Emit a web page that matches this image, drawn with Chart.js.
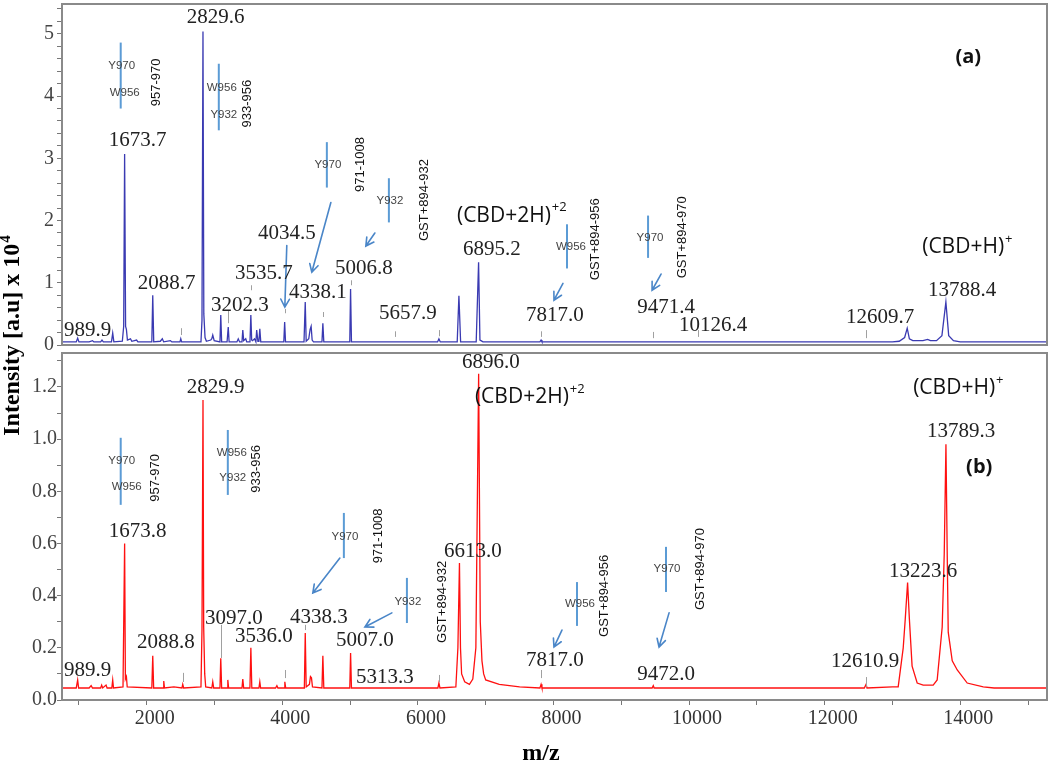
<!DOCTYPE html>
<html><head><meta charset="utf-8">
<script src="https://cdn.jsdelivr.net/npm/chart.js@4/dist/chart.umd.min.js"></script>
<style>
html,body{margin:0;padding:0;background:#fff;overflow:hidden}
#wrap{position:relative;width:1050px;height:763px;background:#fff}
canvas{position:absolute;left:0;top:0}
</style></head>
<body><div id="wrap"><canvas id="c1" width="1050" height="763"></canvas><canvas id="c2" width="1050" height="763"></canvas></div>
<script>
// ---------- axis ranges and ticks ----------
const mzRange = [750, 15280];
const yRangeA = [0, 5.48];
const yRangeB = [0, 1.33];
const xTicks = [1000,2000,3000,4000,5000,6000,7000,8000,9000,10000,11000,12000,13000,14000,15000];
const xTickLabels = ['', '2000', '', '4000', '', '6000', '', '8000', '', '10000', '', '12000', '', '14000', ''];
const yTicksA = [0,0.2,0.4,0.6,0.8,1,1.2,1.4,1.6,1.8,2,2.2,2.4,2.6,2.8,3,3.2,3.4,3.6,3.8,4,4.2,4.4,4.6,4.8,5,5.2,5.4];
const yTicksB = [0,0.1,0.2,0.3,0.4,0.5,0.6,0.7,0.8,0.9,1.0,1.1,1.2,1.3];

// ---------- spectrum (a) : [m/z, intensity x10^4] ----------
const spectrumA = [[750,0.05],[960,0.05],[981,0.11],[1000,0.05],[1150,0.05],[1200,0.07],[1220,0.05],[1320,0.05],[1340,0.08],[1360,0.05],[1480,0.05],[1498,0.19],[1515,0.05],[1640,0.06],[1660,0.3],[1673.7,3.07],[1688,0.3],[1700,0.25],[1715,0.08],[1760,0.1],[1780,0.06],[1850,0.08],[1870,0.05],[2075,0.05],[2088.7,0.8],[2103,0.05],[2200,0.06],[2230,0.1],[2250,0.05],[2350,0.07],[2370,0.05],[2490,0.05],[2502,0.1],[2515,0.05],[2800,0.05],[2815,0.4],[2829.6,5.04],[2842,0.5],[2860,0.12],[2880,0.06],[2945,0.08],[2960,0.1],[2974,0.16],[2995,0.07],[3080,0.05],[3092,0.48],[3105,0.05],[3185,0.05],[3202.3,0.29],[3215,0.05],[3330,0.05],[3350,0.1],[3370,0.05],[3405,0.05],[3417,0.24],[3430,0.07],[3460,0.1],[3475,0.05],[3523,0.05],[3535.7,0.48],[3548,0.08],[3560,0.07],[3590,0.1],[3610,0.05],[3622,0.24],[3640,0.06],[3655,0.06],[3668,0.26],[3682,0.05],[3900,0.05],[4022,0.05],[4034.5,0.37],[4047,0.05],[4320,0.05],[4338.1,0.69],[4352,0.06],[4390,0.1],[4410,0.25],[4425,0.3],[4440,0.08],[4460,0.05],[4585,0.05],[4598,0.35],[4612,0.05],[4995,0.05],[5006.8,0.9],[5020,0.05],[6290,0.05],[6310,0.1],[6330,0.05],[6580,0.05],[6605,0.79],[6630,0.05],[6860,0.05],[6895.2,1.33],[6915,0.08],[6930,0.07],[6960,0.05],[7800,0.05],[7817,0.08],[7830,0.05],[13000,0.05],[13100,0.06],[13180,0.12],[13218,0.27],[13250,0.1],[13300,0.07],[13450,0.07],[13520,0.09],[13560,0.07],[13650,0.07],[13730,0.15],[13788.4,0.69],[13830,0.15],[13900,0.07],[14000,0.05],[15280,0.05]];

// ---------- spectrum (b) ----------
const spectrumB = [[750,0.046],[960,0.046],[981,0.077],[995,0.046],[1150,0.046],[1180,0.055],[1200,0.046],[1320,0.046],[1335,0.057],[1350,0.046],[1400,0.057],[1415,0.046],[1485,0.046],[1498,0.077],[1510,0.046],[1650,0.05],[1673.8,0.60],[1685,0.08],[1700,0.09],[1712,0.05],[2075,0.046],[2088.8,0.17],[2102,0.046],[2240,0.046],[2251,0.073],[2262,0.046],[2400,0.05],[2520,0.046],[2531,0.06],[2545,0.046],[2800,0.05],[2815,0.27],[2829.9,1.15],[2840,0.28],[2855,0.1],[2870,0.05],[2960,0.046],[2974,0.07],[2988,0.046],[3080,0.046],[3092,0.16],[3105,0.046],[3185,0.046],[3196,0.077],[3208,0.046],[3405,0.046],[3417,0.08],[3430,0.046],[3522,0.046],[3536,0.20],[3550,0.046],[3655,0.046],[3668,0.07],[3680,0.046],[3900,0.046],[3920,0.055],[3935,0.046],[4025,0.046],[4037,0.07],[4050,0.046],[4325,0.046],[4338.3,0.257],[4352,0.05],[4400,0.06],[4415,0.09],[4430,0.085],[4445,0.05],[4585,0.046],[4598,0.17],[4612,0.046],[4995,0.046],[5007,0.18],[5020,0.046],[6295,0.046],[6310,0.065],[6325,0.046],[6560,0.05],[6590,0.2],[6613,0.525],[6628,0.2],[6645,0.1],[6690,0.07],[6760,0.06],[6810,0.08],[6855,0.2],[6896,1.25],[6920,0.3],[6945,0.15],[6970,0.1],[7000,0.077],[7200,0.06],[7500,0.05],[7800,0.046],[7817,0.06],[7830,0.046],[9455,0.046],[9472,0.055],[9485,0.046],[12585,0.046],[12610.9,0.06],[12625,0.046],[13000,0.05],[13085,0.05],[13159,0.2],[13189,0.31],[13223.6,0.45],[13250,0.31],[13290,0.13],[13365,0.065],[13454,0.057],[13601,0.057],[13660,0.077],[13734,0.28],[13764,0.56],[13789.3,0.98],[13808,0.56],[13823,0.26],[13882,0.15],[13956,0.115],[14103,0.065],[14339,0.05],[14500,0.046],[15280,0.046]];

// ---------- annotations (a): [text, m/z, intensity] ----------
const peakLabelsA = [['989.9',1129,0.24],['1673.7',1867,3.29],['2088.7',2295,0.99],['2829.6',3018,5.26],['3202.3',3373,0.64],['3535.7',3727,1.15],['4034.5',4066,1.80],['4338.1',4524,0.85],['5006.8',5203,1.23],['5657.9',5852,0.51],['6895.2',7092,1.54],['7817.0',8022,0.48],['9471.4',9660,0.61],['10126.4',10354,0.32],['12609.7',12819,0.45],['13788.4',14029,0.88]];
const residueBarsA = [[1616,3.80,4.86],[3063,3.45,4.52],[4657,2.53,3.26],[5572,1.97,2.68],[8199,1.23,1.94],[9395,1.40,2.08]];
const residueTextA = [['Y970',1631,4.49],['W956',1675,4.06],['W956',3107,4.14],['Y932',3137,3.70],['Y970',4672,2.89],['Y932',5587,2.31],['W956',8258,1.57],['Y970',9424,1.72]];
const fragmentTextA = [['957-970',2148,4.22],['933-956',3491,3.88],['971-1008',5159,2.90],['GST+894-932',6089,2.33],['GST+894-956',8613,1.70],['GST+894-970',9897,1.73]];
const arrowsA = [[4716,2.29,4435,1.17],[4066,1.60,4037,0.61],[5365,1.80,5232,1.59],[8140,0.99,8007,0.72],[9587,1.14,9454,0.88]];
const markersA = [[2502,0.16,0.27],[3202.3,0.35,0.56],[3535.7,0.88,0.96],[4034.5,0.51,0.58],[4598,0.45,0.53],[5006.8,0.96,1.04],[5657.9,0.13,0.22],[6310,0.14,0.24],[7817,0.13,0.22],[9471.4,0.11,0.21],[10126.4,0.13,0.24],[12609.7,0.11,0.24]];
const ionLabelsA = [['(CBD+2H)','+2',6576,2.08],['(CBD+H)','+',13439,1.57]];
const panelLabelA = ['(a)',14118,4.62];

// ---------- annotations (b) ----------
const peakLabelsB = [['989.9',1129,0.115],['1673.8',1867,0.644],['2088.8',2281,0.219],['2829.9',3018,1.196],['3097.0',3284,0.314],['3536.0',3727,0.245],['4338.3',4539,0.318],['5007.0',5218,0.23],['5313.3',5513,0.088],['6613.0',6812,0.571],['6896.0',7077,1.292],['7817.0',8022,0.150],['9472.0',9660,0.096],['12610.9',12598,0.146],['13223.6',13454,0.491],['13789.3',14015,1.028]];
const residueBarsB = [[1616,0.748,1.005],[3196,0.786,1.035],[4908,0.544,0.717],[5838,0.295,0.468],[8347,0.284,0.452],[9660,0.414,0.587]];
const residueTextB = [['Y970',1631,0.916],['W956',1705,0.817],['W956',3255,0.947],['Y932',3269,0.851],['Y970',4923,0.625],['Y932',5852,0.376],['W956',8391,0.368],['Y970',9675,0.502]];
const fragmentTextB = [['957-970',2133,0.851],['933-956',3624,0.886],['971-1008',5424,0.629],['GST+894-932',6369,0.376],['GST+894-956',8745,0.399],['GST+894-970',10162,0.502]];
const arrowsB = [[4849,0.544,4450,0.41],[5616,0.334,5218,0.280],[8125,0.268,8007,0.203],[9705,0.334,9557,0.203]];
const markersB = [[2531,0.069,0.104],[3092,0.161,0.288],[4037,0.084,0.115],[4338.3,0.268,0.288],[6310,0.069,0.096],[7817,0.084,0.115],[12610.9,0.05,0.088]];
const ionLabelsB = [['(CBD+2H)','+2',6841,1.162],['(CBD+H)','+',13306,1.196]];
const panelLabelB = ['(b)',14280,0.893];

// ---------- titles ----------
const yTitle = ['Intensity [a.u] x 10', '4'];
const xTitle = 'm/z';

// ---------- drawing helpers ----------
const BLUE_LINE = '#5b9bd5', ARROW = '#4a86c8';
function drawAnnotations(chart, a) {
  const {ctx, scales: {x, y}} = chart;
  const X = v => x.getPixelForValue(v), Y = v => y.getPixelForValue(v);
  ctx.save();
  ctx.strokeStyle = '#a0a0a0'; ctx.lineWidth = 1;
  a.markers.forEach(([m, v1, v2]) => { ctx.beginPath(); ctx.moveTo(Math.round(X(m)) + 0.5, Y(v1)); ctx.lineTo(Math.round(X(m)) + 0.5, Y(v2)); ctx.stroke(); });
  ctx.strokeStyle = BLUE_LINE; ctx.lineWidth = 2;
  a.bars.forEach(([m, v1, v2]) => { ctx.beginPath(); ctx.moveTo(X(m), Y(v1)); ctx.lineTo(X(m), Y(v2)); ctx.stroke(); });
  ctx.font = '11.5px "Liberation Sans"'; ctx.fillStyle = '#444'; ctx.textAlign = 'center'; ctx.textBaseline = 'middle';
  a.residues.forEach(([t, m, v]) => ctx.fillText(t, X(m), Y(v)));
  ctx.font = '13px "Liberation Sans"'; ctx.fillStyle = '#111';
  a.fragments.forEach(([t, m, v]) => { ctx.save(); ctx.translate(X(m), Y(v)); ctx.rotate(-Math.PI / 2); ctx.fillText(t, 0, 0); ctx.restore(); });
  ctx.strokeStyle = ARROW; ctx.lineWidth = 1.6; ctx.lineCap = 'round';
  a.arrows.forEach(([m1, v1, m2, v2]) => {
    const x1 = X(m1), y1 = Y(v1), x2 = X(m2), y2 = Y(v2);
    const ang = Math.atan2(y2 - y1, x2 - x1), L = 9, h = 0.5;
    ctx.beginPath(); ctx.moveTo(x1, y1); ctx.lineTo(x2, y2);
    ctx.moveTo(x2 - L * Math.cos(ang - h), y2 - L * Math.sin(ang - h)); ctx.lineTo(x2, y2);
    ctx.lineTo(x2 - L * Math.cos(ang + h), y2 - L * Math.sin(ang + h));
    ctx.stroke();
  });
  ctx.font = '21px "Liberation Serif"'; ctx.fillStyle = '#222'; ctx.textAlign = 'center';
  a.peaks.forEach(([t, m, v]) => ctx.fillText(t, X(m), Y(v)));
  ctx.fillStyle = '#111'; ctx.textAlign = 'left';
  a.ions.forEach(([t, sup, m, v]) => {
    ctx.font = '21px "Open Sans"';
    const px = X(m), py = Y(v);
    ctx.fillText(t, px, py);
    const w = ctx.measureText(t).width;
    ctx.font = '13px "Open Sans"';
    ctx.fillText(sup, px + w + 1, py - 8);
  });
  ctx.font = 'bold 20px "Open Sans"'; ctx.textAlign = 'center'; ctx.fillStyle = '#111';
  ctx.fillText(a.panel[0], X(a.panel[1]), Y(a.panel[2]));
  const ca = chart.chartArea;
  ctx.strokeStyle = '#8a8a8a'; ctx.lineWidth = 2;
  ctx.strokeRect(ca.left, ca.top, ca.right - ca.left, ca.bottom - ca.top);
  ctx.restore();
}

const isMult = (v, s) => Math.abs(v / s - Math.round(v / s)) < 1e-6;

const pluginA = { id: 'annA', afterDraw(chart) {
  drawAnnotations(chart, {markers: markersA, bars: residueBarsA, residues: residueTextA, fragments: fragmentTextA, arrows: arrowsA, peaks: peakLabelsA, ions: ionLabelsA, panel: panelLabelA});
  const ctx = chart.ctx;
  ctx.save();
  ctx.translate(13, 336); ctx.rotate(-Math.PI / 2);
  ctx.font = 'bold 24px "Liberation Serif"';
  const w1 = ctx.measureText(yTitle[0]).width;
  ctx.font = 'bold 15px "Liberation Serif"';
  const w2 = ctx.measureText(yTitle[1]).width;
  ctx.fillStyle = '#000'; ctx.textBaseline = 'middle'; ctx.textAlign = 'left';
  ctx.font = 'bold 24px "Liberation Serif"';
  ctx.fillText(yTitle[0], -(w1 + w2) / 2, 0);
  ctx.font = 'bold 15px "Liberation Serif"';
  ctx.fillText(yTitle[1], -(w1 + w2) / 2 + w1 + 1, -7);
  ctx.restore();
}};
const pluginB = { id: 'annB', afterDraw(chart) {
  drawAnnotations(chart, {markers: markersB, bars: residueBarsB, residues: residueTextB, fragments: fragmentTextB, arrows: arrowsB, peaks: peakLabelsB, ions: ionLabelsB, panel: panelLabelB});
  const ctx = chart.ctx;
  ctx.save();
  ctx.font = 'bold 24px "Liberation Serif"'; ctx.fillStyle = '#000'; ctx.textAlign = 'center'; ctx.textBaseline = 'middle';
  ctx.fillText(xTitle, 541, 754);
  ctx.restore();
}};

const gridOpts = { drawOnChartArea: false, drawTicks: true, tickLength: 5, color: '#777' };
const tickFont = { family: 'Liberation Serif', size: 20, lineHeight: 0.1 };

new Chart(document.getElementById('c1'), {
  type: 'line',
  data: { datasets: [{ data: spectrumA.map(([x, y]) => ({x, y})), borderColor: '#3a3ab2', borderWidth: 1.3, pointRadius: 0, tension: 0, fill: false }] },
  options: {
    responsive: false, animation: false, devicePixelRatio: 1,
    layout: { padding: { top: 0, right: 3, bottom: 418, left: 0 } },
    plugins: { legend: { display: false }, tooltip: { enabled: false } },
    scales: {
      x: { type: 'linear', display: false, min: mzRange[0], max: mzRange[1] },
      y: {
        type: 'linear', min: yRangeA[0], max: yRangeA[1],
        grid: gridOpts, border: { display: false },
        afterFit: s => { s.width = 62; },
        afterBuildTicks: s => { s.ticks = yTicksA.map(value => ({value})); },
        ticks: { autoSkip: false, padding: 3, color: '#444', font: tickFont,
          callback: v => isMult(v, 1) ? String(Math.round(v)) : '' }
      }
    }
  },
  plugins: [pluginA]
});

new Chart(document.getElementById('c2'), {
  type: 'line',
  data: { datasets: [{ data: spectrumB.map(([x, y]) => ({x, y})), borderColor: '#ff1010', borderWidth: 1.3, pointRadius: 0, tension: 0, fill: false }] },
  options: {
    responsive: false, animation: false, devicePixelRatio: 1,
    layout: { padding: { top: 353, right: 3, bottom: 0, left: 0 } },
    plugins: { legend: { display: false }, tooltip: { enabled: false } },
    scales: {
      x: {
        type: 'linear', display: true, min: mzRange[0], max: mzRange[1],
        afterFit: s => { s.height = 63; },
        afterBuildTicks: s => { s.ticks = xTicks.map(value => ({value})); },
        grid: gridOpts, border: { display: false },
        ticks: { autoSkip: false, maxRotation: 0, minRotation: 0, padding: 2, labelOffset: 8, color: '#333',
          font: { family: 'Liberation Serif', size: 20 },
          callback: (v, i) => xTickLabels[i] }
      },
      y: {
        type: 'linear', min: yRangeB[0], max: yRangeB[1],
        grid: gridOpts, border: { display: false },
        afterFit: s => { s.width = 62; },
        afterBuildTicks: s => { s.ticks = yTicksB.map(value => ({value})); },
        ticks: { autoSkip: false, padding: 0, color: '#444', font: tickFont,
          callback: v => isMult(v, 0.2) ? v.toFixed(1) : '' }
      }
    }
  },
  plugins: [pluginB]
});
</script>
</body></html>
